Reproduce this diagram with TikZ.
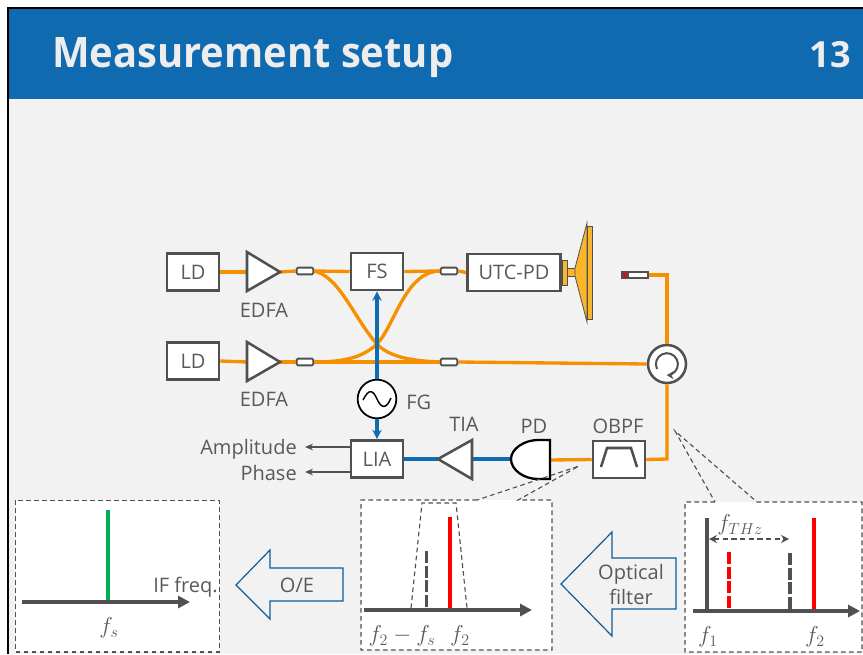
\documentclass[tikz,border=0pt]{standalone}
\usepackage{amsmath}
\usepackage{amssymb}
\usepackage{xcolor}
\usepackage{fontspec}
\setmainfont{Open Sans}
\usetikzlibrary{arrows.meta}
\definecolor{hdrblue}{HTML}{106AB0}
\definecolor{sigblue}{HTML}{0F6CB0}
\definecolor{fiberor}{HTML}{F79000}
\definecolor{hornor}{HTML}{FBB52C}
\definecolor{ink}{HTML}{595959}
\definecolor{edge}{HTML}{505050}
\definecolor{slide}{HTML}{F2F2F2}
\definecolor{titlegray}{HTML}{EDEDED}
\definecolor{arrblue}{HTML}{0F5C96}
\definecolor{specgreen}{HTML}{00B050}
\tikzset{
  lbl/.style={text=ink,font=\fontsize{15}{18}\selectfont,inner sep=0pt,text height=11pt,text depth=0.5pt},
  mathlbl/.style={text=ink,font=\fontsize{18}{20}\selectfont,inner sep=0pt},
  devbox/.style={draw=edge,fill=white,line width=1.9pt,inner sep=0pt,text=ink,font=\fontsize{15}{18}\selectfont,text height=11pt,text depth=0.5pt,minimum width=39pt,minimum height=28pt},
  coupler/.style={draw=edge,fill=white,line width=1.4pt,rounded corners=1pt,inner sep=0pt,minimum width=12.5pt,minimum height=5pt},
  amp/.style={draw=edge,fill=white,line width=1.9pt,line join=miter},
  fiber/.style={draw=fiberor,line width=2.5pt},
  sig/.style={draw=sigblue,line width=2.5pt},
  sigarrow/.style={sig,-{Stealth[length=7pt,width=7pt]}},
  readout/.style={draw=edge,line width=0.9pt,-{Stealth[length=6pt,width=5pt]}},
  panel/.style={draw=edge,line width=0.85pt,dash pattern=on 3.5pt off 2.5pt},
  freqaxis/.style={draw=edge,line width=2.6pt,-{Stealth[length=9pt,width=9pt,inset=0pt]}},
  tone/.style={line width=2.6pt},
  dashtone/.style={line width=2.6pt,dash pattern=on 9pt off 2pt},
  bigarrow/.style={draw=arrblue,fill=slide,line width=0.9pt,line join=miter},
}
\begin{document}
\begin{tikzpicture}[x=0.75pt,y=-0.75pt]
            \useasboundingbox (0,0) rectangle (863,654);
            \fill[white] (0,0) rectangle (863,654);
            \fill[slide] (8,8) rectangle (863,654);
            \fill[hdrblue] (8,8) rectangle (863,99);
            \draw[black,line width=1.5pt] (8,654) -- (8,8) -- (863,8);

            \node (title) at (52,67.5) [anchor=base west,inner sep=0pt,text=titlegray,font=\fontsize{31.5}{36}\selectfont\bfseries] {\scalebox{0.95}[1]{Measurement setup}};
            \node (pagenum) at (851,67.5) [anchor=base east,inner sep=0pt,text=titlegray,font=\fontsize{27}{32}\selectfont\bfseries] {13};

            \node (ldA) at (193,272) [devbox] {LD};
            \node (ldB) at (193,361) [devbox] {LD};
            \coordinate (edfaAin) at (247,272);
            \coordinate (edfaAout) at (280,272);
            \coordinate (edfaBin) at (247,362);
            \coordinate (edfaBout) at (280,362);
            \node (cplA) at (305,271) [coupler] {};
            \node (cplB) at (305,362) [coupler] {};
            \node (cplC) at (449,271) [coupler] {};
            \node (cplD) at (449,362) [coupler] {};
            \node (fs) at (377,271.5) [devbox] {FS};
            \node (utc) at (514,272.5) [devbox,minimum width=70pt] {UTC-PD};
            \node (circ) at (667,364) [circle,draw=edge,fill=white,line width=1.9pt,inner sep=0pt,minimum size=28.5pt] {};
            \node (tip) at (638,275) [coupler,minimum width=15pt,rounded corners=0pt] {};
            \node (fg) at (377,399) [circle,draw=black,fill=white,line width=1.3pt,inner sep=0pt,minimum size=29pt] {};
            \node (lia) at (377,459) [devbox] {LIA};
            \node (obpf) at (619,459.5) [devbox] {};
            \coordinate (tiaOut) at (438,459);
            \coordinate (tiaIn) at (472,459);
            \coordinate (pdIn) at (550,460);
            \coordinate (pdOut) at (511,459);
            \coordinate (bendA) at (667,275);
            \coordinate (bendB) at (667,459);

            \draw[fiber] (ldA.east) -- (edfaAin);
            \draw[fiber] (ldB.east) -- (edfaBin);
            \draw[fiber] (edfaAout) -- (cplA.west);
            \draw[fiber] (edfaBout) -- (cplB.west);
            \draw[fiber] (cplA.east) -- (fs.west);
            \draw[fiber] (fs.east) -- (cplC.west);
            \draw[fiber] (cplC.east) -- (utc.west);
            \draw[fiber] (cplB.east) -- (cplD.west);
            \draw[fiber] (cplD.east) -- (circ.west);
            \draw[fiber] (cplA.east) .. controls (340,277) and (355,320) .. (377,344) .. controls (390,358) and (415,361) .. (cplD.west);
            \draw[fiber] (cplB.east) .. controls (350,362) and (365,355) .. (377,344) .. controls (395,325) and (405,272) .. (cplC.west);
            \draw[fiber] (tip.east) -- (bendA) -- (circ.north);
            \draw[fiber] (circ.south) -- (bendB) -- (obpf.east);
            \draw[fiber] (obpf.west) -- (pdIn);

            \draw[sigarrow] (fg.north) -- (fs.south);
            \draw[sigarrow] (fg.south) -- (lia.north);
            \draw[sig] (pdOut) -- (tiaIn);
            \draw[sig] (tiaOut) -- (lia.east);

            \draw[amp] (edfaAin |- 0,252) -- (edfaAout) -- (edfaAin |- 0,291) -- cycle;
            \draw[amp] (edfaBin |- 0,342) -- (edfaBout) -- (edfaBin |- 0,381) -- cycle;
            \draw[amp] (tiaOut) -- (tiaIn |- 0,440) -- (tiaIn |- 0,479) -- cycle;
            \draw[draw=black,fill=white,line width=1.7pt] (550,440) -- (550,479) -- (538,479) .. controls (524,479) and (511,470) .. (pdOut) .. controls (511,449) and (524,440) .. (538,440) -- cycle;

            \draw[draw=edge,line width=1.9pt] (601,467) -- (607,448) -- (631,448) -- (637,467);
            \draw[draw=edge,line width=1.5pt,-{Stealth[length=5pt,width=6pt]}] (657,369) arc[start angle=154,end angle=450,radius=11];
            \draw[draw=black,line width=1.1pt] (363,400) .. controls (369,388) and (373,390) .. (377,399) .. controls (381,408) and (386,410) .. (391,398);

            \draw[fill=edge,draw=edge,line width=0.6pt] (621,271.5) rectangle (628,278.5);
            \fill[red] (623,273) rectangle (627,277);

            \draw[draw=edge,fill=hornor,line width=0.6pt] (562,260) rectangle (567,285);
            \draw[draw=edge,fill=hornor,line width=0.6pt] (567,268) rectangle (575,276);
            \draw[draw=edge,fill=hornor,line width=0.6pt] (575,268) -- (587,223) -- (587,322) -- (575,276) -- cycle;
            \draw[draw=edge,fill=hornor,line width=0.6pt] (587,226) rectangle (592,319);

            \node (edfaAlbl) at (264,310) [lbl] {EDFA};
            \node (edfaBlbl) at (264,399) [lbl] {EDFA};
            \node (fglbl) at (406,402) [lbl,anchor=west] {FG};
            \node (tialbl) at (464,424) [lbl] {TIA};
            \node (pdlbl) at (534,426) [lbl] {PD};
            \node (obpflbl) at (618,426) [lbl] {OBPF};
            \node (amplbl) at (297,447) [lbl,anchor=east] {Amplitude};
            \node (phaselbl) at (297,473) [lbl,anchor=east] {Phase};
            \coordinate (ampEnd) at (305,447);
            \coordinate (phaseEnd) at (305,472);
            \draw[readout] (lia.west |- ampEnd) -- (ampEnd);
            \draw[readout] (lia.west |- phaseEnd) -- (phaseEnd);

            % spectrum panels
            \fill[white] (15,500) rectangle (219,652);
            \draw[panel] (15.4,500.4) rectangle (219.4,652);
            \draw[tone,specgreen] (108,510) -- (108,602);
            \draw[freqaxis] (22,602) -- (190,602);
            \node (iflbl) at (153,585) [lbl,anchor=west] {IF freq.};
            \node (fslbl) at (109,628) [mathlbl] {$f_s$};

            \fill[white] (361,500) rectangle (552,650);
            \draw[panel] (477,500) -- (361,500) -- (361,650) -- (552,650) -- (552,500) -- (518,500) -- (579,466) -- cycle;
            \draw[panel] (411,608) -- (422,503) -- (456,503) -- (467,608);
            \draw[dashtone,edge] (426.5,551) -- (426.5,609);
            \draw[tone,red] (450,517) -- (450,609);
            \draw[freqaxis] (364,610) -- (532,610);
            \node (fdiff) at (402,636) [mathlbl] {$f_2-f_s$};
            \node (ftwoB) at (460,636) [mathlbl] {$f_2$};

            \fill[white] (685,502) rectangle (862,652);
            \draw[panel] (715,502) -- (685,502) -- (685,652) -- (862,652) -- (862,502) -- (757,502) -- (675,431) -- cycle;
            \draw[tone,edge] (707,518) -- (707,611);
            \draw[dashtone,red] (729,552) -- (729,611);
            \draw[dashtone,edge] (790,553) -- (790,611);
            \draw[tone,red] (814,518) -- (814,611);
            \draw[freqaxis] (693,611) -- (860,611);
            \coordinate (spanA) at (709,539);
            \coordinate (spanB) at (789,539);
            \draw[draw=edge,line width=0.9pt,dash pattern=on 4pt off 2.5pt,{Stealth[length=6pt,width=6pt]}-{Stealth[length=6pt,width=6pt]}] (spanA) -- (spanB);
            \node (fthz) at (740,525) [mathlbl] {$f_{THz}$};
            \node (foneC) at (708,637) [mathlbl] {$f_1$};
            \node (ftwoC) at (815,637) [mathlbl] {$f_2$};

            \draw[bigarrow] (236,585) -- (270,550) -- (270,568) -- (343,568) -- (343,601) -- (270,601) -- (270,619) -- cycle;
            \node (oelbl) at (297,585) [lbl] {O/E};
            \draw[bigarrow] (561,584) -- (612,532) -- (612,558) -- (676,558) -- (676,609) -- (612,609) -- (612,636) -- cycle;
            \node (optlbl) at (631,572) [lbl] {Optical};
            \node (filtlbl) at (631,597) [lbl] {filter};
\end{tikzpicture}
\end{document}
